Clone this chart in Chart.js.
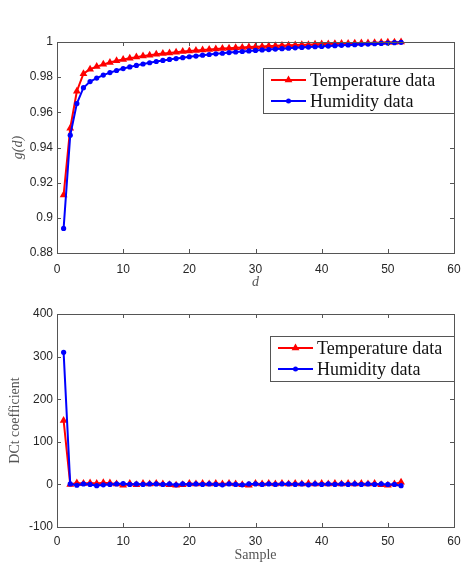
<!DOCTYPE html>
<html>
<head>
<meta charset="utf-8">
<script src="https://cdn.jsdelivr.net/npm/chart.js@4.4.0/dist/chart.umd.min.js"></script>
<style>
body { margin: 0; background: #fff; width: 465px; height: 568px; overflow: hidden; position: relative; }
canvas { position: absolute; left: 0; }
</style>
</head>
<body>
<canvas id="top" width="465" height="295" style="top:0"></canvas>
<canvas id="bottom" width="465" height="273" style="top:295px"></canvas>
<script>
// sample index / lag d
var index = [1,2,3,4,5,6,7,8,9,10,11,12,13,14,15,16,17,18,19,20,21,22,23,24,25,26,
  27,28,29,30,31,32,33,34,35,36,37,38,39,40,41,42,43,44,45,46,47,48,49,50,51,52];

var gTemp = [0.913,0.951,0.972,0.982,0.9845,0.986,0.9873,0.9884,0.9893,0.9901,0.9908,0.9914,
  0.992,0.9925,0.993,0.9934,0.9938,0.9942,0.9946,0.9949,0.9952,0.9955,0.9958,0.996,0.9963,0.9965,
  0.9967,0.9969,0.9971,0.9973,0.9975,0.9977,0.9978,0.998,0.9981,0.9983,0.9984,0.9985,0.9987,0.9988,
  0.9989,0.999,0.9991,0.9992,0.9993,0.9994,0.9995,0.9996,0.9997,0.9998,0.9999,1.0];
var gHum = [0.894,0.947,0.965,0.974,0.9775,0.9795,0.9812,0.9826,0.9838,0.9849,0.9858,0.9867,
  0.9875,0.9882,0.9889,0.9895,0.9901,0.9906,0.9911,0.9916,0.992,0.9925,0.9929,0.9933,0.9936,0.994,
  0.9943,0.9946,0.9949,0.9952,0.9955,0.9957,0.996,0.9962,0.9965,0.9967,0.9969,0.9971,0.9973,0.9975,
  0.9977,0.9979,0.9981,0.9983,0.9985,0.9987,0.9988,0.999,0.9992,0.9994,0.9996,0.9998];

var dctTemp = [150,0,3,2,3,2,4,3,1,-2,2,-1,2,1,2,1,-1,-2,-1,2,1,2,1,2,1,2,
  1,-1,-2,2,1,2,1,2,1,2,1,2,1,2,1,2,1,2,1,2,1,2,-1,-2,1,5];
var dctHum = [310,1,-2,1,0,-3,-1,0,1,2,0,1,0,1,1,0,1,-1,1,0,1,0,1,0,-1,1,
  0,-1,1,1,0,1,0,1,1,0,1,-1,1,0,1,0,1,0,1,0,1,0,1,0,0,-3];

var seriesNames = ['Temperature data', 'Humidity data'];

function pts(vals) {
  return vals.map(function (v, i) { return {x: index[i], y: v}; });
}

function drawMarker(ctx, style, x, y, r, color) {
  ctx.fillStyle = color;
  ctx.beginPath();
  if (style == 'triangle') {
    ctx.moveTo(x, y - r);
    ctx.lineTo(x + r * 0.866, y + r * 0.5);
    ctx.lineTo(x - r * 0.866, y + r * 0.5);
    ctx.closePath();
  } else {
    ctx.arc(x, y, r, 0, Math.PI * 2);
  }
  ctx.fill();
}

// box around the axes with inward tick marks, matlab style
var boxPlugin = {
  id: 'box',
  afterDraw: function (chart) {
    var ctx = chart.ctx, a = chart.chartArea;
    ctx.save();
    ctx.strokeStyle = '#555';
    ctx.lineWidth = 1;
    ctx.strokeRect(Math.round(a.left) + 0.5, Math.round(a.top) + 0.5,
      Math.round(a.right - a.left), Math.round(a.bottom - a.top));
    var xs = chart.scales.x, ys = chart.scales.y;
    ctx.beginPath();
    xs.ticks.forEach(function (t) {
      var px = Math.round(xs.getPixelForValue(t.value)) + 0.5;
      ctx.moveTo(px, a.bottom); ctx.lineTo(px, a.bottom - 4);
      ctx.moveTo(px, a.top); ctx.lineTo(px, a.top + 4);
    });
    ys.ticks.forEach(function (t) {
      var py = Math.round(ys.getPixelForValue(t.value)) + 0.5;
      ctx.moveTo(a.left, py); ctx.lineTo(a.left + 4, py);
      ctx.moveTo(a.right, py); ctx.lineTo(a.right - 4, py);
    });
    ctx.stroke();

    // legend box
    var lg = chart.options.plugins.boxLegend;
    var bx = lg.left, by = a.top + lg.top, bw = a.right - lg.left, bh = 45;
    ctx.fillStyle = '#fff';
    ctx.fillRect(bx, by, bw, bh);
    ctx.strokeStyle = '#555';
    ctx.strokeRect(Math.round(bx) + 0.5, Math.round(by) + 0.5, Math.round(bw), bh);
    ctx.font = '18px "Liberation Serif", "DejaVu Serif", serif';
    ctx.textBaseline = 'middle';
    ctx.textAlign = 'left';
    chart.data.datasets.forEach(function (ds, i) {
      var y = by + 12 + i * 21;
      var x0 = bx + 8, x1 = bx + 43;
      ctx.strokeStyle = ds.borderColor;
      ctx.lineWidth = 2;
      ctx.beginPath(); ctx.moveTo(x0, y); ctx.lineTo(x1, y); ctx.stroke();
      drawMarker(ctx, ds.pointStyle, (x0 + x1) / 2, y, ds.pointStyle == 'triangle' ? 4.5 : 2.5, ds.borderColor);
      ctx.fillStyle = '#111';
      ctx.fillText(ds.label, x1 + 4, y + 1);
    });
    ctx.restore();
  }
};

function tickLabel(v) {
  return String(Number(v.toFixed(4)));
}

function makeChart(id, tempVals, humVals, yOpts, xTitle, yTitle, italic, sizes) {
  return new Chart(document.getElementById(id), {
    type: 'line',
    data: {
      datasets: [{
        label: seriesNames[0],
        data: pts(tempVals),
        borderColor: '#ff0000',
        backgroundColor: '#ff0000',
        borderWidth: 2,
        pointStyle: 'triangle',
        pointRadius: 4.5,
        pointBorderWidth: 0,
        clip: false,
        order: 2
      }, {
        label: seriesNames[1],
        data: pts(humVals),
        borderColor: '#0000ff',
        backgroundColor: '#0000ff',
        borderWidth: 2,
        pointStyle: 'circle',
        pointRadius: 2.6,
        pointBorderWidth: 0,
        clip: false,
        order: 1
      }]
    },
    options: {
      responsive: false,
      animation: false,
      layout: {padding: {top: sizes.top, right: 11, left: 0, bottom: 0}},
      plugins: {
        legend: {display: false},
        tooltip: {enabled: false},
        boxLegend: {left: sizes.legendLeft, top: sizes.legendTop}
      },
      scales: {
        x: {
          type: 'linear', min: 0, max: 60,
          ticks: {stepSize: 10, color: '#262626', padding: sizes.xpad, maxRotation: 0,
            font: {family: 'Liberation Sans', size: 12}, callback: tickLabel},
          grid: {display: false, drawTicks: false},
          border: {display: false},
          title: {display: true, text: xTitle, color: '#555',
            font: {family: 'Liberation Serif', size: 14, style: italic ? 'italic' : 'normal'},
            padding: {top: 0, bottom: 4}},
          afterFit: function (s) { s.height = sizes.xh; s.paddingLeft = 0; s.paddingRight = 0; }
        },
        y: {
          type: 'linear', min: yOpts.min, max: yOpts.max,
          ticks: {stepSize: yOpts.step, color: '#262626', padding: 4,
            font: {family: 'Liberation Sans', size: 12}, callback: tickLabel},
          grid: {display: false, drawTicks: false},
          border: {display: false},
          title: {display: true, text: yTitle, color: '#555',
            font: {family: 'Liberation Serif', size: 14, style: italic ? 'italic' : 'normal'},
            padding: {top: sizes.ytp, bottom: 0}},
          afterFit: function (s) { s.width = 57; s.paddingTop = 0; s.paddingBottom = 0; }
        }
      }
    },
    plugins: [boxPlugin]
  });
}

makeChart('top', gTemp, gHum, {min: 0.88, max: 1, step: 0.02}, 'd', 'g(d)', true,
  {top: 42, xh: 42, ytp: 10, xpad: 9, legendLeft: 263, legendTop: 26});
makeChart('bottom', dctTemp, dctHum, {min: -100, max: 400, step: 100}, 'Sample', 'DCt coefficient', false,
  {top: 19, xh: 41, ytp: 7, xpad: 7, legendLeft: 270, legendTop: 22});
</script>
</body>
</html>
